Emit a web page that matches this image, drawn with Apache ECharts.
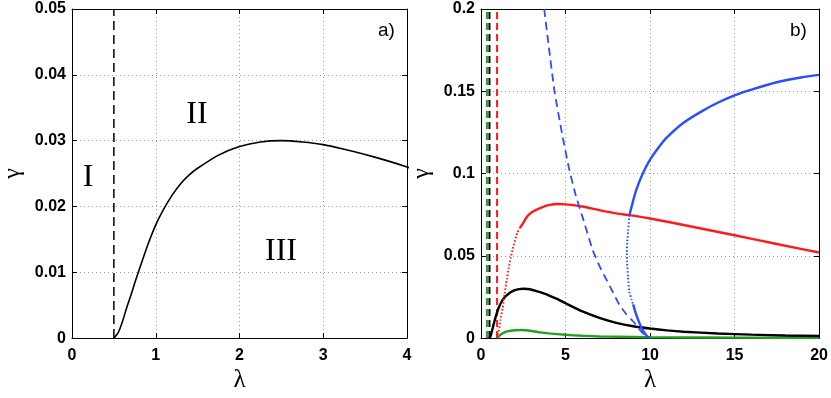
<!DOCTYPE html>
<html>
<head>
<meta charset="utf-8">
<script src="https://cdn.jsdelivr.net/npm/echarts@6/dist/echarts.min.js"></script>
<style>
html,body{margin:0;padding:0;background:#fff;}
#c{width:831px;height:398px;}
</style>
</head>
<body>
<div id="c"></div>
<script>
// ---- data ----
const blackLam = [0.5,0.55,0.6,0.65,0.7,0.75,0.8,0.9,1.0,1.1,1.2,1.3,1.4,1.5,1.75,2.0,2.25,2.5,2.75,3.0,3.25,3.5,3.75,4.0,4.5,5,6,7,8,9,10,11,12,14,16,18,20];
const blackGam = [0,0.0008,0.0024,0.0045,0.0064,0.0084,0.0103,0.0140,0.0172,0.0197,0.0218,0.0235,0.0248,0.0258,0.0278,0.0291,0.0298,0.0300,0.0298,0.0294,0.0287,0.0279,0.0270,0.0260,0.0238,0.0212,0.0162,0.0123,0.0093,0.0072,0.0058,0.0047,0.0039,0.0028,0.0021,0.0016,0.0013];

const redDotLam = [0.97,1.05,1.15,1.28,1.4,1.53,1.65,1.76,1.95,2.15,2.3];
const redDotGam = [0,0.004,0.011,0.018,0.027,0.0356,0.043,0.049,0.057,0.064,0.067];
const redLam = [2.3,2.5,2.74,3.0,3.5,4.0,4.6,5,6,7,8,8.78,10,12.5,15,17.5,20];
const redGam = [0.067,0.070,0.074,0.0765,0.079,0.0808,0.0815,0.0813,0.0800,0.0778,0.0758,0.0747,0.0727,0.0677,0.0625,0.0572,0.052];

const greenLam = [0.95,1.1,1.3,1.6,2.0,2.4,3.0,3.5,4,5,6,7,8,10,12,15,20];
const greenGam = [0,0.0015,0.003,0.0042,0.0048,0.0049,0.0043,0.0035,0.0029,0.0020,0.0014,0.0010,0.0008,0.0005,0.0004,0.0003,0.0002];

const blueDashLam = [3.74,4.0,4.35,4.8,5.2,5.6,6.02,6.61,7.0,7.4,7.8,8.19,8.6,8.98,9.4,9.8];
const blueDashGam = [0.2,0.178,0.15,0.124,0.1035,0.087,0.0731,0.0535,0.044,0.0359,0.028,0.0202,0.0145,0.0104,0.005,0.0006];

const blueDotLam = [8.78,8.70,8.65,8.63,8.64,8.70,8.78,8.9,9.0];
const blueDotGam = [0.0747,0.065,0.0578,0.052,0.0466,0.037,0.028,0.0235,0.0205];
const blueLowLam = [9.0,9.18,9.4,9.6,9.87,9.92];
const blueLowGam = [0.0205,0.0143,0.0085,0.0042,0.0006,0];
const blueUpLam = [8.78,9.0,9.2,9.57,10,10.55,11,12,13,14,15,16,17.5,19,20];
const blueUpGam = [0.0747,0.0835,0.0905,0.1,0.1085,0.1165,0.122,0.131,0.1375,0.143,0.1475,0.151,0.1555,0.1585,0.160];

const vlineA = 0.5;
const vlinesB = {green:0.35, black:0.5, red:0.95};

const xTicksA = [0,4,1];   // min, max, interval
const yTicksA = [0,0.05,0.01];
const xTicksB = [0,20,5];
const yTicksB = [0,0.2,0.05];

const zip = (a,b)=>a.map((v,i)=>[v,b[i]]);

// ---- chart ----
const chart = echarts.init(document.getElementById('c'), null, {renderer:'canvas'});
const labelStyle = {color:'#000', fontFamily:'Liberation Sans', fontWeight:'bold', fontSize:16};
const grid = {type:[1,3], color:'#999', width:1};
function xAx(gi, t, main){
  return {
    type:'value', gridIndex:gi, min:t[0], max:t[1], interval:t[2],
    position: main?'bottom':'top',
    axisLine:{show:true, onZero:false, lineStyle:{color:'#000', width:1}},
    axisTick:{show:true, inside:true, length:5, lineStyle:{color:'#000'}},
    axisLabel: main?Object.assign({margin:9}, labelStyle):{show:false},
    splitLine: main?{show:true, lineStyle:grid}:{show:false},
    name: main?'λ':'', nameLocation:'middle', nameGap:28,
    nameTextStyle:{fontFamily:'Liberation Serif', fontSize:25, color:'#000'}
  };
}
function yAx(gi, t, main){
  return {
    type:'value', gridIndex:gi, min:t[0], max:t[1], interval:t[2],
    position: main?'left':'right',
    axisLine:{show:true, onZero:false, lineStyle:{color:'#000', width:1}},
    axisTick:{show:true, inside:true, length:5, lineStyle:{color:'#000'}},
    axisLabel: main?Object.assign({margin:6}, labelStyle):{show:false},
    splitLine: main?{show:true, lineStyle:grid}:{show:false},
    name: main?'γ':'', nameLocation:'middle', nameGap:47, nameRotate:90,
    nameTextStyle:{fontFamily:'Liberation Serif', fontSize:24, color:'#000'}
  };
}
function line(xi, yi, data, color, width, type){
  return {type:'line', xAxisIndex:xi, yAxisIndex:yi, data:data, showSymbol:false, symbol:'none',
    smooth:0.2, animation:false, silent:true, clip:true,
    lineStyle:{color:color, width:width, type:type||'solid'}};
}
function vline(xi, yi, x, ymax, color, width, dash){
  const l = line(xi, yi, [[x,0],[x,ymax]], color, width, dash);
  l.smooth = false;
  return l;
}

const option = {
  backgroundColor:'#fff',
  animation:false,
  grid:[
    {left:68, top:9, width:339, height:342},
    {left:481, top:9, width:339, height:342}
  ],
  xAxis:[xAx(0,xTicksA,true), xAx(0,xTicksA,false), xAx(1,xTicksB,true), xAx(1,xTicksB,false)],
  yAxis:[yAx(0,yTicksA,true), yAx(0,yTicksA,false), yAx(1,yTicksB,true), yAx(1,yTicksB,false)],
  series:[
    vline(0,0,vlineA,yTicksA[1],'#000',1.5,[9,5]),
    line(0,0,zip(blackLam,blackGam),'#000',1.6),
    vline(2,2,vlinesB.green,yTicksB[1],'#22a022',2,[7,4]),
    vline(2,2,vlinesB.black,yTicksB[1],'#000',2,[7,4]),
    vline(2,2,vlinesB.red,yTicksB[1],'#ff1a1a',2,[7,4]),
    line(2,2,zip(greenLam,greenGam),'#22a022',2.4),
    line(2,2,zip(blackLam,blackGam),'#000',2.4),
    line(2,2,zip(redDotLam,redDotGam),'#ff1a1a',2,[1.5,2]),
    line(2,2,zip(redLam,redGam),'#ff1a1a',2.4),
    line(2,2,zip(blueDashLam,blueDashGam),'#2b4cff',1.8,[8,5]),
    line(2,2,zip(blueDotLam,blueDotGam),'#2b4cff',2,[1.5,2]),
    line(2,2,zip(blueLowLam,blueLowGam),'#2b4cff',2.4),
    line(2,2,zip(blueUpLam,blueUpGam),'#2b4cff',2.4)
  ],
  graphic:[
    {type:'text', left:378, top:21, style:{text:'a)', font:'19px "Liberation Sans"', fill:'#000'}},
    {type:'text', left:790, top:21, style:{text:'b)', font:'19px "Liberation Sans"', fill:'#000'}},
    {type:'text', x:88, y:178, style:{text:'I', font:'32px "Liberation Serif"', fill:'#000', align:'center', verticalAlign:'middle'}},
    {type:'text', x:197, y:115, style:{text:'II', font:'32px "Liberation Serif"', fill:'#000', align:'center', verticalAlign:'middle'}},
    {type:'text', x:281, y:252, style:{text:'III', font:'32px "Liberation Serif"', fill:'#000', align:'center', verticalAlign:'middle'}}
  ]
};
chart.setOption(option);
</script>
</body>
</html>
